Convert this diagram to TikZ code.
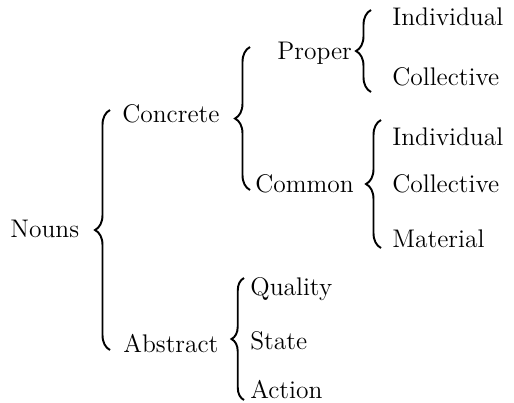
\documentclass[tikz,border=0pt]{standalone}
\usetikzlibrary{decorations.pathreplacing}

\begin{document}
\begin{tikzpicture}[
    word/.style={anchor=mid west, inner sep=0pt, font=\fontsize{14.5}{17}\selectfont},
    curly/.style={decorate, decoration={brace, amplitude=#1}, line width=1.1pt}
  ]
    \useasboundingbox (0, 0) rectangle (10.28, -8.04);

    \node[word] (nouns) at (0.2, -4.68) {Nouns};
    \node[word] (concrete) at (2.44, -2.38) {Concrete};
    \node[word] (abstract) at (2.46, -6.98) {Abstract};

    \node[word] (proper) at (5.54, -1.12) {Proper};
    \node[word] (common) at (5.1, -3.78) {Common};

    \node[word] (pind) at (7.84, -0.44) {Individual};
    \node[word] (pcoll) at (7.84, -1.64) {Collective};

    \node[word] (cind) at (7.84, -2.84) {Individual};
    \node[word] (ccoll) at (7.84, -3.78) {Collective};
    \node[word] (cmat) at (7.84, -4.88) {Material};

    \node[word] (quality) at (5.0, -5.84) {Quality};
    \node[word] (state) at (5.0, -6.92) {State};
    \node[word] (action) at (5.0, -7.9) {Action};

    \coordinate (nounstop) at (2.2, -2.2);
    \coordinate (nounsbot) at (2.2, -7.0);
    \coordinate (concretetop) at (5.0, -0.94);
    \coordinate (concretebot) at (5.0, -3.8);
    \coordinate (propertop) at (7.42, -0.2);
    \coordinate (properbot) at (7.42, -1.84);
    \coordinate (commontop) at (7.62, -2.4);
    \coordinate (commonbot) at (7.62, -4.96);
    \coordinate (abstracttop) at (4.88, -5.56);
    \coordinate (abstractbot) at (4.88, -8.0);

    \draw[curly=0.3cm] (nounsbot) -- (nounstop);
    \draw[curly=0.3cm] (concretebot) -- (concretetop);
    \draw[curly=0.3cm] (properbot) -- (propertop);
    \draw[curly=0.3cm] (commonbot) -- (commontop);
    \draw[curly=0.25cm] (abstractbot) -- (abstracttop);
  \end{tikzpicture}
\end{document}
